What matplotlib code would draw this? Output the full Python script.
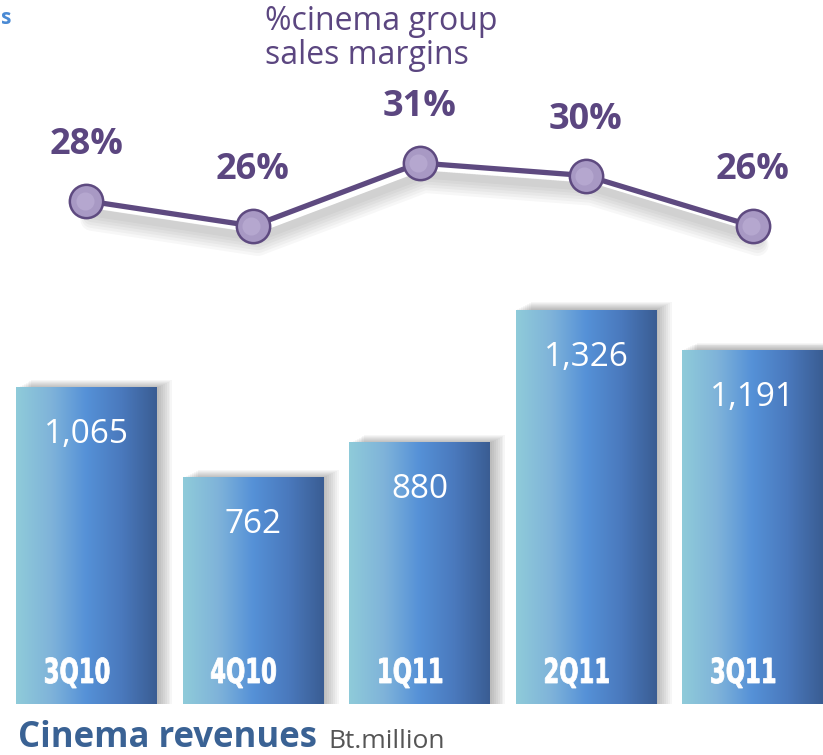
import numpy as np
import matplotlib
matplotlib.use("Agg")
from matplotlib import pyplot as plt
from matplotlib.colors import LinearSegmentedColormap
from matplotlib.patches import Rectangle, PathPatch
from matplotlib.textpath import TextPath
from matplotlib.font_manager import FontProperties
from matplotlib.transforms import Affine2D

quarters = ["3Q10", "4Q10", "1Q11", "2Q11", "3Q11"]
revenues = [1065, 762, 880, 1326, 1191]
revenue_labels = ["1,065", "762", "880", "1,326", "1,191"]
margins = [28, 26, 31, 30, 26]
margin_labels = ["28%", "26%", "31%", "30%", "26%"]

W, H = 823, 755
fig = plt.figure(figsize=(W / 100, H / 100), dpi=100)

# bar axes: bottom of bars at pixel 704, spanning to top of figure
base_px = 704
ax = fig.add_axes([0, (H - base_px) / H, 1, base_px / H])
px_per_unit = 0.297
step = 166.5
x0 = 86.5
ax.axis("off")

bar_w = 141 / step
grad = LinearSegmentedColormap.from_list(
    "bar", ["#8fcbd9", "#7fb3da", "#5591d7", "#4a79bd", "#3a5d93"])
g = np.linspace(0, 1, 256).reshape(1, -1)
x = np.arange(len(quarters))

# condensed bold labels (Impact-like) built from text paths
fp = FontProperties(family="DejaVu Sans", weight="bold")
zero = TextPath((0, 0), "0", size=1, prop=fp).vertices
sy = 26 / (zero[:, 1].max() - zero[:, 1].min())
sx = sy * 0.66

for i, v in enumerate(revenues):
    # soft shadow
    for k in range(8):
        off = (k + 1) * 1.6
        ax.add_patch(Rectangle((x[i] - bar_w / 2 + off / step * 1.2, 0),
                               bar_w, v + off / px_per_unit * 0.6,
                               color="black", alpha=0.035, lw=0, zorder=1))
    ax.imshow(g, cmap=grad, aspect="auto", zorder=2,
              extent=[x[i] - bar_w / 2, x[i] + bar_w / 2, 0, v])
    ax.text(x[i], v - 47 / px_per_unit, revenue_labels[i], color="white",
            fontsize=24, family="Open Sans", ha="center", va="center", zorder=3)

    tp = TextPath((0, 0), quarters[i], size=1, prop=fp)
    vx = tp.vertices
    cx = x0 + step * i - 10
    tr = (Affine2D().translate(-(vx[:, 0].min() + vx[:, 0].max()) / 2, 0)
          .scale(sx, sy).translate(cx, H - 683))
    fig.add_artist(PathPatch(tp, fc="white", ec="white", lw=0.6,
                             transform=tr, zorder=5))

ax.set_xlim(-x0 / step, (W - x0) / step)
ax.set_ylim(0, base_px / px_per_unit)

# line axes
lx = fig.add_axes([0, (H - base_px) / H, 1, base_px / H])
lx.set_xlim(-x0 / step, (W - x0) / step)
s = 12.6
lx.set_ylim(26 - (base_px - 226) / s, 26 + 226 / s)
lx.axis("off")
lx.patch.set_alpha(0)
for k in range(6):
    lx.plot(x + 0.03, np.array(margins) - 0.9 - k * 0.12, color="black",
            lw=6 + k * 2, alpha=0.03, solid_capstyle="round", zorder=1)
lx.plot(x, margins, color="#5e4a80", lw=3.8, zorder=2)
lx.plot(x, margins, "o", ms=24, mfc="#a899c4", mec="#5e4a80", mew=1.8, zorder=3)
lx.plot(x - 0.012, margins, "o", ms=13, mfc="#bbaed4", mec="none", alpha=0.7, zorder=4)
for i, m in enumerate(margins):
    lx.text(x[i], m + 56 / s, margin_labels[i], color="#5b4680", fontsize=26,
            weight="bold", family="Open Sans", ha="center", va="center", zorder=5)

fig.text(265 / W, 1 - 22 / H, "%cinema group", color="#5b4680", fontsize=23,
         family="Open Sans", ha="left", va="center")
fig.text(265 / W, 1 - 55 / H, "sales margins", color="#5b4680", fontsize=23,
         family="Open Sans", ha="left", va="center")
fig.text(1 / W, 1 - 18 / H, "s", color="#4a8ad4", fontsize=15, weight="bold",
         family="Open Sans", ha="left", va="center")
fig.text(18 / W, 1 - 738 / H, "Cinema revenues", color="#3a6294",
         fontsize=25, weight="bold", family="Open Sans", ha="left", va="center")
fig.text(328 / W, 1 - 742 / H, "Bt.million", color="#555555", fontsize=19,
         family="Open Sans", ha="left", va="center")

fig.savefig("out.png", dpi=100)
